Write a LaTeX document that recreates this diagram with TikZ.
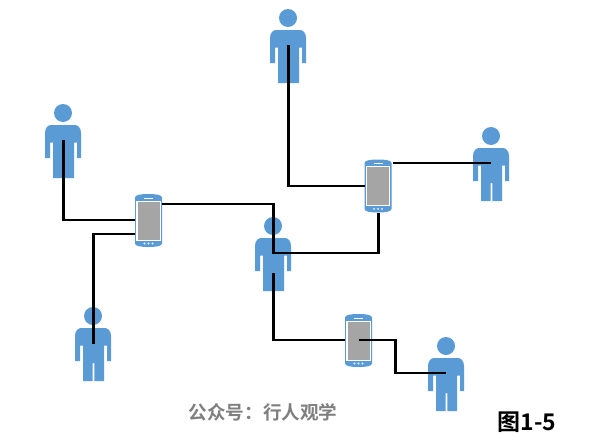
\documentclass[tikz,border=0pt]{standalone}
\usepackage{fontspec}
\newfontfamily\cjk{Noto Sans CJK SC}[BoldFont={Noto Sans CJK SC Bold}]
\definecolor{iconblue}{HTML}{5B9BD5}
\definecolor{screengray}{HTML}{A5A5A5}
\definecolor{wmgray}{HTML}{7F7F7F}
\tikzset{
  link/.style={draw=black,line width=2.15pt,line join=miter},
  person/.pic={
    \fill[iconblue] (0,9) circle (9);
    \fill[iconblue] (-18,29) .. controls (-18,24) and (-15,21) .. (-12,21) -- (12,21)
      .. controls (15,21) and (18,24) .. (18,29) -- (18,54) -- (14,54) -- (14,38.5) -- (11,38.5)
      -- (11,74) -- (1.4,74) -- (1.4,56) -- (-.4,56) -- (-.4,74) -- (-10,74) -- (-10,38.5) -- (-13,38.5)
      -- (-13,54) -- (-18,54) -- cycle;
  },
  handsetpic/.pic={
    \fill[iconblue] (-13.5,-23) .. controls (-13.5,-25.5) and (-8,-26.5) .. (0,-26.5)
      .. controls (8,-26.5) and (13.5,-25.5) .. (13.5,-23) -- (13.5,23)
      .. controls (13.5,25.5) and (8,26.5) .. (0,26.5)
      .. controls (-8,26.5) and (-13.5,25.5) .. (-13.5,23) -- cycle;
    \fill[white] (-12.2,-19.7) rectangle (12.2,20.2);
    \fill[screengray] (-11,-18.7) rectangle (11,19.2);
    \fill[white] (-4.5,-22.9) rectangle (4.5,-22);
    \fill[white!85!iconblue] (-4,22.9) circle (1.1) (0,22.9) circle (1.1) (4,22.9) circle (1.1);
  },
  hitbox/.style={minimum width=27pt,minimum height=53pt,inner sep=0pt,outer sep=0pt}
}
\begin{document}
\begin{tikzpicture}[x=1pt,y=-1pt]
\useasboundingbox[fill=white] (0,0) rectangle (604,447);
% people
\pic at (63,104)  {person};
\pic at (288,9)   {person};
\pic at (491,127) {person};
\pic at (273,217) {person};
\pic at (93,307)  {person};
\pic at (446,337) {person};
% anchors on people
\coordinate (manA) at (63.5,140);
\coordinate (manB) at (288.5,45);
\coordinate (manC) at (491,163);
\coordinate (manD) at (273.5,273);
\coordinate (manE) at (93.5,344);
\coordinate (manF) at (446,373.3);
\coordinate (bendA) at (273.5,253.3);
\coordinate (bendB) at (395.5,373.3);
% phones
\pic at (148.5,220.5) {handsetpic};
\pic at (378,186)     {handsetpic};
\pic at (358.5,340.5) {handsetpic};
\node[hitbox] (ph1) at (148.5,220.3) {};
\node[hitbox,minimum width=28pt] (ph2) at (378.5,186) {};
\node[hitbox] (ph3) at (358.5,340) {};
% connectors
\draw[link] (manA) |- (ph1.west);
\draw[link] ([yshift=-14pt]ph1.west) -| (manE);
\draw[link] ([yshift=16.3pt]ph1.east) -| (bendA) -| (ph2.south);
\draw[link] (manB) |- (ph2.west);
\draw[link] ([yshift=23pt]ph2.east) -- (manC);
\draw[link] (manD) |- (ph3.west);
\draw[link] (ph3.center) -| (bendB) -- (manF);
% text
\node[font=\cjk\bfseries\fontsize{18.6}{20}\selectfont,text=wmgray,inner sep=0pt] (wm) at (263,412) {公众号：行人观学};
\node[font=\cjk\bfseries\fontsize{23}{24}\selectfont,text=black,inner sep=0pt] (fig) at (527,422.5) {图1-5};
\end{tikzpicture}
\end{document}
